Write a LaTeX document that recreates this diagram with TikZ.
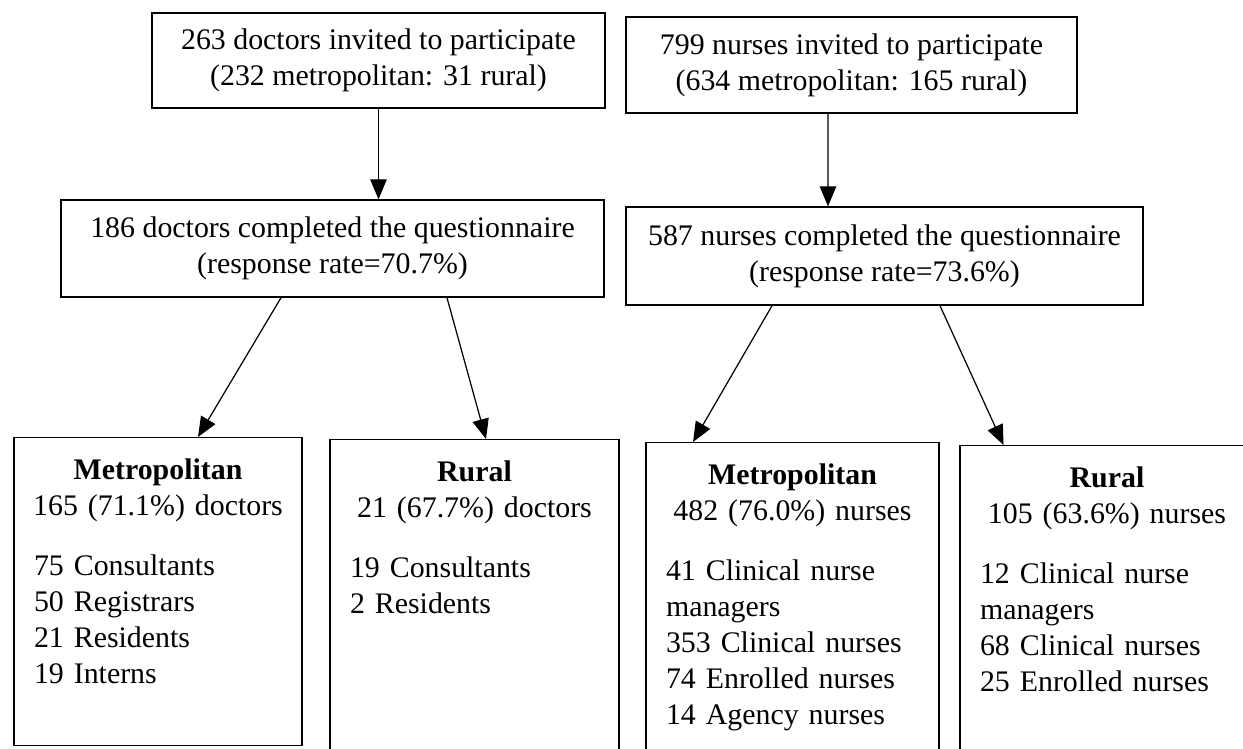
\documentclass[tikz,border=0pt]{standalone}
\usepackage{fontspec}
\setmainfont{Liberation Serif}
\usetikzlibrary{positioning, arrows.meta}
\tikzset{
    base/.style={draw, line width=0.8pt, align=center, inner sep=0pt},
    topbox/.style={base, rectangle},
    groupbox/.style={base, rectangle, anchor=north},
    grouptext/.style={inner sep=0pt, align=left},
    arrow/.style={-{Triangle[length=0.4cm, width=0.33cm]}, line width=0.7pt}
}
\newcommand{\headline}[1]{\makebox[\linewidth]{#1}}

\begin{document}
\begin{tikzpicture}[x=0.02cm, y=-0.02cm, font=\fontsize{17}{20.5}\selectfont]
    \useasboundingbox (0,0) rectangle (1243,748);
    \clip (0,0) rectangle (1243,748);

    % Invited and completed (top two rows)
    \node [topbox, minimum width=9.06cm, minimum height=1.9cm] (docinv) at (378.5,60.5) {263 doctors invited to participate\\(232 metropolitan: 31 rural)};
    \node [topbox, minimum width=10.86cm, minimum height=1.94cm] (doccomp) at (332.5,248.5) {186 doctors completed the questionnaire\\(response rate=70.7\%)};
    \node [topbox, minimum width=9.02cm, minimum height=1.92cm] (nurinv) at (851.5,65) {799 nurses invited to participate\\(634 metropolitan: 165 rural)};
    \node [topbox, minimum width=10.34cm, minimum height=1.96cm] (nurcomp) at (884.5,256) {587 nurses completed the questionnaire\\(response rate=73.6\%)};

    % Group boxes (bottom row)
    \node [groupbox, minimum width=5.76cm, minimum height=6.16cm] (metdoc) at (158,437) {};
    \node [groupbox, minimum width=5.78cm, minimum height=6.6cm] (rurdoc) at (474.5,439) {};
    \node [groupbox, minimum width=5.86cm, minimum height=6.6cm] (metnur) at (792.5,442) {};
    \node [groupbox, minimum width=5.88cm, minimum height=6.6cm] (rurnur) at (1107,445) {};

    \node [grouptext, text width=4.96cm, below=0.42cm of metdoc.north] (metdoctxt) {\headline{\textbf{Metropolitan}}\\\headline{165 (71.1\%) doctors}\par\vspace{0.48cm}75 Consultants\\50 Registrars\\21 Residents\\19 Interns};
    \node [grouptext, text width=4.98cm, below=0.42cm of rurdoc.north] (rurdoctxt) {\headline{\textbf{Rural}}\\\headline{21 (67.7\%) doctors}\par\vspace{0.48cm}19 Consultants\\2 Residents};
    \node [grouptext, text width=5.06cm, below=0.42cm of metnur.north] (metnurtxt) {\headline{\textbf{Metropolitan}}\\\headline{482 (76.0\%) nurses}\par\vspace{0.48cm}41 Clinical nurse\\managers\\353 Clinical nurses\\74 Enrolled nurses\\14 Agency nurses};
    \node [grouptext, text width=5.08cm, below=0.42cm of rurnur.north] (rurnurtxt) {\headline{\textbf{Rural}}\\\headline{105 (63.6\%) nurses}\par\vspace{0.48cm}12 Clinical nurse\\managers\\68 Clinical nurses\\25 Enrolled nurses};

    % Connections
    \draw [arrow] (docinv) -- (docinv |- doccomp.north);
    \draw [arrow] ([xshift=-0.47cm]nurinv.south) -- ([xshift=-1.13cm]nurcomp.north);
    \draw [arrow] ([xshift=-1.03cm]doccomp.south) -- ([xshift=0.8cm]metdoc.north);
    \draw [arrow] ([xshift=2.29cm]doccomp.south) -- ([xshift=0.23cm]rurdoc.north);
    \draw [arrow] ([xshift=-2.25cm]nurcomp.south) -- ([xshift=-1.99cm]metnur.north);
    \draw [arrow] ([xshift=1.11cm]nurcomp.south) -- ([xshift=-2.07cm]rurnur.north);
\end{tikzpicture}
\end{document}
